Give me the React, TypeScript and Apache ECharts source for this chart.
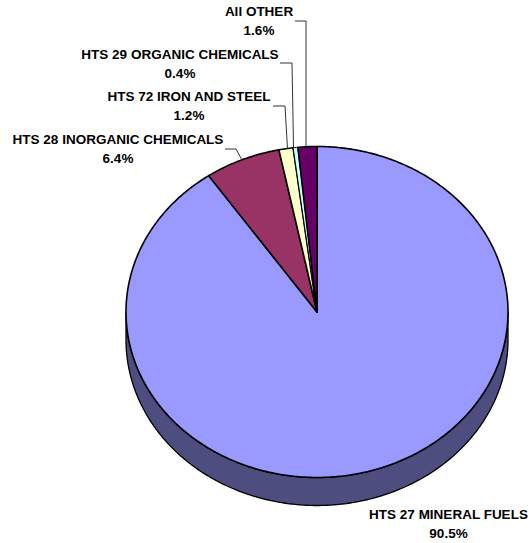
import React, { useEffect, useRef } from "react";
import * as echarts from "echarts";

const categories = ["HTS 27 MINERAL FUELS", "HTS 28 INORGANIC CHEMICALS", "HTS 72 IRON AND STEEL", "HTS 29 ORGANIC CHEMICALS", "All OTHER"];
const shares = [90.5, 6.4, 1.2, 0.4, 1.6];
const colors = ["#9999ff", "#993366", "#ffffcc", "#ccffff", "#660066"];
const wallColors = ["#4d4d80", "#4d1a33", "#808066", "#668080", "#330033"];
const labelCenters = [[448.5, 523.5], [118, 148.5], [189, 106], [180, 63.5], [259, 20.5]];
const leaders: number[][][] = [
  [],
  [[225, 149], [236, 149], [242, 160]],
  [[273, 106], [285, 106], [287.5, 149]],
  [[280, 63], [292, 63], [293.5, 147]],
  [[295, 21], [306, 21], [306, 147]],
];

const CX = 317, CY = 312, RX = 191, RY = 165.5, DEPTH = 28;
const total = shares.reduce((a, b) => a + b, 0);
const at = (a: number, dy = 0) => [CX + RX * Math.sin(a), CY - RY * Math.cos(a) + dy];
const arc = (a0: number, a1: number, dy = 0) => {
  const n = Math.max(2, Math.ceil((a1 - a0) / 0.01));
  const pts: number[][] = [];
  for (let i = 0; i <= n; i++) pts.push(at(a0 + ((a1 - a0) * i) / n, dy));
  return pts;
};

export default function App() {
  const ref = useRef<HTMLDivElement>(null);
  useEffect(() => {
    document.body.style.margin = "0";
    const chart = echarts.init(ref.current!, null, { renderer: "svg" });
    chart.setOption({
      animation: false,
      backgroundColor: "#ffffff",
      series: [
        {
          type: "custom",
          coordinateSystem: "none",
          silent: true,
          data: shares.map((v, i) => ({ name: categories[i], value: [v, i] })),
          renderItem: (params: any) => {
            const i = params.dataIndex;
            const start = (shares.slice(0, i).reduce((a, b) => a + b, 0) / total) * 2 * Math.PI;
            const end = start + (shares[i] / total) * 2 * Math.PI;
            const children: any[] = [];
            const v0 = Math.max(start, Math.PI / 2), v1 = Math.min(end, (3 * Math.PI) / 2);
            if (v1 > v0) {
              const top = arc(v0, v1);
              const bottom = arc(v0, v1, DEPTH);
              children.push({
                type: "polygon",
                shape: { points: [...top, ...bottom.reverse()] },
                style: { fill: wallColors[i], stroke: "#000000", lineWidth: 1.3 },
              });
            }
            children.push({
              type: "polygon",
              shape: { points: [[CX, CY], ...arc(start, end)] },
              style: { fill: colors[i], stroke: "#000000", lineWidth: i === 3 ? 1 : 1.6, lineJoin: "round" },
            });
            if (leaders[i].length) {
              children.push({
                type: "polyline",
                shape: { points: leaders[i] },
                style: { fill: "none", stroke: "#333333", lineWidth: 1 },
              });
            }
            children.push({
              type: "text",
              x: labelCenters[i][0],
              y: labelCenters[i][1],
              style: {
                text: `${categories[i]}\n${shares[i].toFixed(1)}%`,
                fill: "#000000",
                font: 'bold 13.5px "Liberation Sans", Arial, sans-serif',
                lineHeight: 19,
                align: "center",
                verticalAlign: "middle",
              },
            });
            return { type: "group", children };
          },
        },
      ],
    });
    return () => chart.dispose();
  }, []);
  return <div ref={ref} style={{ width: 530, height: 543 }} />;
}
